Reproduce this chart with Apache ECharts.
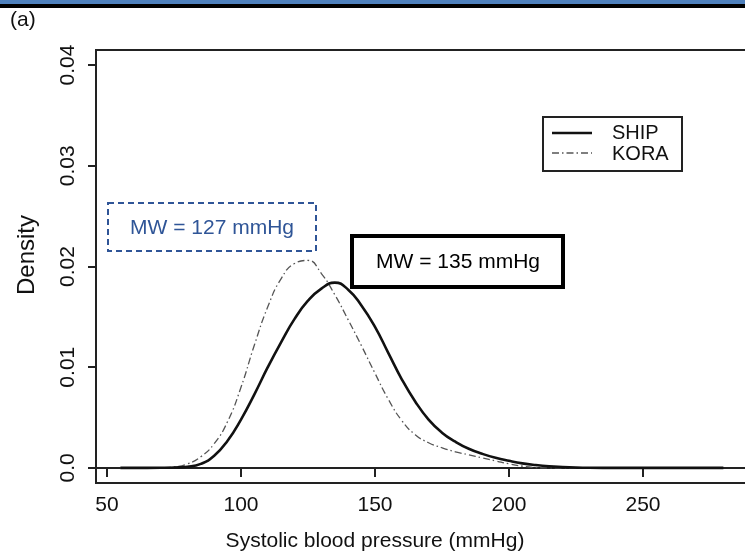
<!DOCTYPE html>
<html>
<head>
<meta charset="utf-8">
<script src="https://cdn.jsdelivr.net/npm/echarts@6/dist/echarts.min.js"></script>
<style>
  html, body { margin: 0; padding: 0; background: #fff; }
  #main { width: 745px; height: 555px; }
</style>
</head>
<body>
<div id="main"></div>
<script>
// systolic blood pressure grid (mmHg) and the density
var bp = [55, 60, 65, 70, 75, 80, 85, 90, 95, 100, 105, 110, 115, 120, 125, 130, 135, 140, 145, 150,
  155, 160, 165, 170, 175, 180, 185, 190, 195, 200, 205, 210, 215, 220, 225, 230, 235, 240, 245, 250,
  255, 260, 265, 270, 275, 280];
var ship = [0, 0, 0, 0.00001, 0.00004, 0.00012, 0.0004, 0.0012, 0.0027, 0.0048, 0.0073, 0.0100, 0.0125, 0.0148, 0.0166, 0.0178, 0.0184, 0.0177, 0.0161, 0.0140,
  0.0114, 0.0088, 0.0066, 0.0048, 0.0035, 0.0026, 0.0019, 0.0014, 0.0010, 0.0007, 0.00045, 0.00028, 0.00016, 0.00009, 0.00004, 0.00001, 0, 0, 0, 0,
  0, 0, 0, 0, 0, 0];
var kora = [0, 0, 0, 0.00002, 0.0001, 0.0004, 0.0011, 0.0024, 0.0046, 0.0080, 0.0122, 0.0160, 0.0188, 0.0203, 0.0206, 0.0193, 0.0172, 0.0147, 0.0121, 0.0094,
  0.0068, 0.0047, 0.0033, 0.0025, 0.0020, 0.0016, 0.0013, 0.0010, 0.0007, 0.0004, 0.00017, 0.00004, 0, 0, 0, 0, 0, 0];

var xTicks = [50, 100, 150, 200, 250];
var yTicks = [0, 0.01, 0.02, 0.03, 0.04];
var names = ['SHIP', 'KORA'];
var meanText = ['MW = 127 mmHg', 'MW = 135 mmHg'];

var font = 'Liberation Sans, Arial, sans-serif';
var dashDot = [7, 3, 1.5, 3];

function pairs(ys) {
  return ys.map(function (v, i) { return [bp[i], v]; });
}

var chart = echarts.init(document.getElementById('main'));

var option = {
  animation: false,
  backgroundColor: '#fff',
  grid: {
    left: 96, top: 50, right: -10, bottom: 72,
    show: true, borderColor: '#222', borderWidth: 2,
    containLabel: false,
    outerBoundsMode: 'none'
  },
  xAxis: {
    type: 'value',
    min: 45.9, max: 291.8,
    splitLine: { show: false },
    axisLine: { show: true, lineStyle: { color: '#222', width: 2 } },
    axisTick: { show: true, length: 9, customValues: xTicks, lineStyle: { color: '#222', width: 2 } },
    axisLabel: {
      customValues: xTicks, margin: 12,
      color: '#111', fontSize: 21, fontFamily: font
    }
  },
  yAxis: {
    type: 'value',
    min: -0.0015, max: 0.0415,
    splitLine: { show: false },
    axisLine: { show: true, lineStyle: { color: '#222', width: 2 } },
    axisTick: { show: true, length: 8, customValues: yTicks, lineStyle: { color: '#222', width: 2 } },
    axisLabel: {
      customValues: yTicks, rotate: 90, margin: 17,
      color: '#111', fontSize: 21, fontFamily: font,
      formatter: function (v) { return v === 0 ? '0.0' : v.toFixed(2); }
    }
  },
  series: [
    {
      name: names[1], type: 'line', data: pairs(kora),
      smooth: 0.5, showSymbol: false,
      lineStyle: { color: '#555', width: 1.3, type: dashDot }
    },
    {
      name: names[0], type: 'line', data: pairs(ship),
      smooth: 0.5, showSymbol: false,
      lineStyle: { color: '#111', width: 2.6 }
    }
  ],
  graphic: [
    { type: 'rect', z: 100, shape: { x: 0, y: 0, width: 745, height: 4 }, style: { fill: '#4f81bd' } },
    { type: 'rect', z: 100, shape: { x: 0, y: 4, width: 745, height: 4 }, style: { fill: '#000' } },
    { type: 'text', z: 100, x: 10, y: 10, style: { text: '(a)', fill: '#111', font: '21px ' + font } },
    {
      type: 'text', z: 100, x: 27, y: 255, rotation: Math.PI / 2,
      style: { text: 'Density', fill: '#111', font: '24px ' + font, align: 'center', verticalAlign: 'middle' }
    },
    {
      type: 'text', z: 100, x: 375, y: 541,
      style: { text: 'Systolic blood pressure (mmHg)', fill: '#111', font: '21px ' + font, align: 'center', verticalAlign: 'middle' }
    },
    // legend
    { type: 'rect', z: 100, shape: { x: 543, y: 117, width: 139, height: 54 }, style: { fill: '#fff', stroke: '#222', lineWidth: 2 } },
    { type: 'line', z: 101, shape: { x1: 552, y1: 133, x2: 592, y2: 133 }, style: { stroke: '#111', lineWidth: 2.6 } },
    { type: 'line', z: 101, shape: { x1: 552, y1: 153, x2: 592, y2: 153 }, style: { stroke: '#555', lineWidth: 1.3, lineDash: dashDot } },
    { type: 'text', z: 101, x: 612, y: 133, style: { text: names[0], fill: '#111', font: '20px ' + font, verticalAlign: 'middle' } },
    { type: 'text', z: 101, x: 612, y: 154, style: { text: names[1], fill: '#111', font: '20px ' + font, verticalAlign: 'middle' } },
    // mean annotations
    { type: 'rect', z: 100, shape: { x: 108, y: 203, width: 208, height: 48 }, style: { fill: '#fff', stroke: '#2f5597', lineWidth: 2, lineDash: [6, 4] } },
    { type: 'text', z: 101, x: 212, y: 228, style: { text: meanText[0], fill: '#2f5597', font: '21px ' + font, align: 'center', verticalAlign: 'middle' } },
    { type: 'rect', z: 100, shape: { x: 352, y: 236, width: 211, height: 51 }, style: { fill: '#fff', stroke: '#000', lineWidth: 4 } },
    { type: 'text', z: 101, x: 458, y: 262, style: { text: meanText[1], fill: '#000', font: '21px ' + font, align: 'center', verticalAlign: 'middle' } }
  ]
};

chart.setOption(option);
</script>
</body>
</html>
